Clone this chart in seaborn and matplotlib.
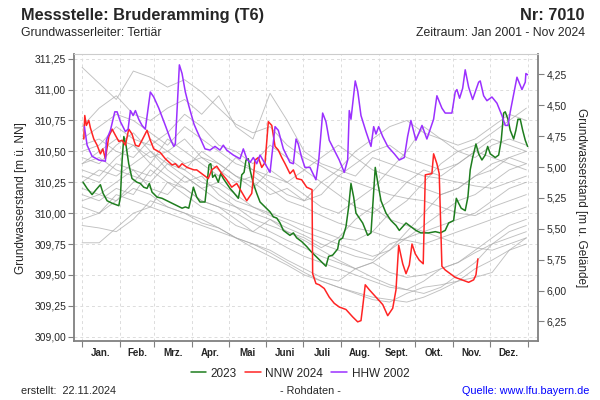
import numpy as np
import pandas as pd
import seaborn as sns
import matplotlib.pyplot as plt
import matplotlib.ticker as ticker

# Gelaendehoehe (Umrechnung m u. Gelaende)
gelaende = 315.373

# Monate
monat_start = [0, 31, 59, 90, 120, 151, 181, 212, 243, 273, 304, 334, 365]
monat_namen = ['Jan.', 'Feb.', 'Mrz.', 'Apr.', 'Mai', 'Juni', 'Juli', 'Aug.',
               'Sept.', 'Okt.', 'Nov.', 'Dez.']

# 2023 (gruen)
tag_2023 = [0.8, 4.1, 8.2, 11.5, 15, 17.2, 20.5, 24.6, 30.1, 31.4, 32.8, 34.2, 36, 38.2,
            40.9, 45, 47.7, 50.5, 53.2, 55.1, 57.3, 61.4, 65.5, 69.6, 73.7, 77.8, 81.9,
            84.6, 87.4, 89.5, 91.2, 93.9, 96.6, 100.7, 104, 105.4, 107, 108.9, 111.6,
            113.6, 115.7, 118.5, 121.2, 123.9, 128, 129.4, 130.8, 132.7, 134.3, 136.2,
            137.6, 140.3, 143.1, 145.8, 149.9, 154, 156.7, 159.5, 162.2, 164.9, 167.6,
            170.3, 173.1, 175.8, 179.9, 184, 187.5, 191.6, 195.7, 199.8, 202, 205.3,
            209.4, 210.7, 213.5, 216.2, 218.4, 220.3, 222.5, 224.4, 227.1, 229.9, 234,
            236.7, 238.1, 240.2, 242.2, 244.9, 249, 253.1, 257.2, 259.9, 262.7, 265.4,
            269.4, 273.5, 277.6, 283.9, 289.4, 293.5, 297.5, 300.3, 304.4, 306.6, 308.5,
            310.6, 313.9, 316.1, 318, 320, 322.7, 324.9, 327.6, 330.3, 332.3, 334.4,
            338.5, 341.3, 343.4, 345.4, 346.7, 348.9, 350.8, 353.6, 355.4, 357.1, 359,
            361, 363.1, 365]
wert_2023 = [310.25, 310.20, 310.15, 310.19, 310.23, 310.16, 310.10, 310.08, 310.06, 310.13,
             310.43, 310.62, 310.55, 310.40, 310.28, 310.25, 310.24, 310.21, 310.20, 310.24,
             310.17, 310.13, 310.12, 310.10, 310.08, 310.06, 310.04, 310.05, 310.04, 310.13,
             310.21, 310.13, 310.09, 310.09, 310.39, 310.40, 310.29, 310.31, 310.25, 310.32,
             310.28, 310.24, 310.20, 310.17, 310.12, 310.19, 310.31, 310.33, 310.43, 310.44,
             310.35, 310.24, 310.16, 310.09, 310.05, 310.01, 309.97, 309.96, 309.92, 309.86,
             309.84, 309.82, 309.84, 309.80, 309.77, 309.73, 309.69, 309.65, 309.61, 309.57,
             309.65, 309.66, 309.71, 309.78, 309.80, 309.89, 310.05, 310.24, 310.13, 310.00,
             309.96, 309.92, 309.82, 309.84, 310.05, 310.37, 310.25, 310.10, 310.00, 309.94,
             309.90, 309.86, 309.89, 309.92, 309.89, 309.86, 309.84, 309.84, 309.85, 309.84,
             309.86, 309.92, 309.94, 310.12, 310.08, 310.04, 310.02, 310.13, 310.35, 310.45,
             310.56, 310.48, 310.43, 310.47, 310.54, 310.48, 310.45, 310.47, 310.59, 310.81,
             310.82, 310.76, 310.67, 310.60, 310.67, 310.76, 310.76, 310.67, 310.59, 310.54]

# NNW 2024 (rot)
tag_nnw = [1.4, 2.2, 3.5, 5.5, 6.8, 9.6, 12.3, 15, 17, 19.1, 21.9, 24.6, 27.3, 30.1, 32.8,
           35.5, 38.2, 40.9, 43.7, 46.4, 49.1, 53.2, 55.9, 58.7, 64.1, 68.2, 73.7, 76.4,
           79.2, 81.9, 86, 91.7, 93.9, 99.3, 103.4, 106.2, 110.3, 114.4, 118.5, 122.6,
           126.7, 130.8, 134.9, 139, 141.7, 144.4, 147.2, 149.9, 152.6, 155.4, 158.1,
           160.8, 163.6, 166.3, 170.3, 173.1, 175.8, 179.9, 184, 188.4, 188.9, 191.6,
           194.3, 198.4, 202.5, 206.6, 210.7, 216.2, 221.7, 225.8, 228.5, 229.9, 232,
           235.3, 240.8, 246.3, 250.4, 254.5, 257.2, 259.4, 262.7, 265.4, 268.1, 270.3,
           273, 276.2, 279.5, 281.2, 286.6, 288, 290.7, 292.6, 294.8, 297.5, 301.6, 305.7,
           311.2, 316.7, 320.8, 322.7, 324.3]
wert_nnw = [310.60, 310.79, 310.71, 310.75, 310.69, 310.60, 310.55, 310.48, 310.52, 310.44,
            310.62, 310.68, 310.63, 310.58, 310.59, 310.55, 310.68, 310.64, 310.55, 310.54,
            310.59, 310.67, 310.59, 310.52, 310.49, 310.44, 310.39, 310.40, 310.37, 310.40,
            310.37, 310.35, 310.35, 310.31, 310.28, 310.35, 310.38, 310.32, 310.27, 310.21,
            310.24, 310.17, 310.10, 310.16, 310.43, 310.45, 310.37, 310.41, 310.74, 310.71,
            310.54, 310.51, 310.45, 310.40, 310.32, 310.35, 310.28, 310.27, 310.21, 310.19,
            309.51, 309.43, 309.42, 309.39, 309.32, 309.27, 309.24, 309.22, 309.16, 309.12,
            309.13, 309.24, 309.42, 309.38, 309.32, 309.26, 309.17, 309.23, 309.38, 309.74,
            309.59, 309.51, 309.58, 309.75, 309.67, 309.62, 309.59, 310.31, 310.32, 310.48,
            310.40, 310.32, 309.57, 309.54, 309.51, 309.48, 309.46, 309.44, 309.46, 309.50,
            309.63]

# HHW 2002 (violett)
tag_hhw = [1.9, 4.1, 8.2, 13.7, 19.1, 19.9, 23.2, 26.8, 28.7, 31.4, 35.5, 37.7, 39.6, 41.8,
           43.7, 46.4, 49.1, 51.8, 55.9, 58.7, 62.8, 68.2, 72.3, 75.1, 76.4, 79.7, 81.9,
           84.6, 87.4, 91.7, 93.9, 100.7, 104.8, 108.9, 113, 115.7, 118.5, 123.9, 129.4,
           132.1, 134.9, 137.6, 140.3, 143.1, 145.8, 149.9, 154, 158.1, 160.8, 164.9,
           170.3, 173.1, 175.3, 177.1, 179.9, 182.6, 186.7, 191.6, 193.9, 197.1, 199.8,
           202.5, 206.6, 210.7, 214.8, 217.6, 218.9, 220.3, 223.8, 225.8, 228.5, 232.6,
           236.7, 238.9, 240.8, 243, 246.3, 250.4, 255.8, 259.9, 264, 266.7, 269.4, 273.5,
           278.5, 282.5, 288, 290.7, 294.8, 297.5, 303, 305.7, 307.1, 309.3, 311.8, 313.9,
           316.7, 320, 324.9, 326.2, 329, 331.7, 335.8, 339.9, 344, 346.7, 348.9, 350.8,
           356.3, 360.4, 363.1, 363.6, 365]
wert_hhw = [310.70, 310.55, 310.46, 310.43, 310.42, 310.59, 310.67, 310.82, 310.82, 310.74,
            310.66, 310.68, 310.83, 310.79, 310.83, 310.76, 310.71, 310.68, 310.98, 310.94,
            310.85, 310.71, 310.60, 310.54, 310.56, 311.20, 311.13, 310.98, 310.87, 310.72,
            310.67, 310.52, 310.51, 310.54, 310.51, 310.55, 310.51, 310.47, 310.44, 310.52,
            310.44, 310.41, 310.45, 310.40, 310.47, 310.40, 310.33, 310.70, 310.67, 310.52,
            310.41, 310.40, 310.60, 310.56, 310.45, 310.37, 310.37, 310.27, 310.43, 310.81,
            310.74, 310.59, 310.51, 310.43, 310.33, 310.43, 310.83, 310.76, 311.07, 310.99,
            310.79, 310.66, 310.54, 310.70, 310.64, 310.70, 310.62, 310.54, 310.48, 310.43,
            310.45, 310.62, 310.75, 310.59, 310.71, 310.60, 310.76, 310.95, 310.85, 310.81,
            310.81, 310.98, 311.00, 310.93, 311.01, 311.16, 311.02, 310.92, 311.06, 311.07,
            310.95, 310.91, 310.94, 310.89, 310.79, 310.71, 310.71, 310.82, 311.10, 311.00,
            311.06, 311.13, 311.12]

# uebrige Jahre (grau), Werte alle 14 Tage
tag_grau = [0, 14, 28, 42, 56, 70, 84, 98, 112, 126, 140, 154, 168, 182, 196, 210, 224,
            238, 252, 266, 280, 294, 308, 322, 336, 350, 364]
grau = {
    'g01': [311.18, 311.05, 310.92, 311.15, 311.10, 311.02, 311.08, 310.98, 310.85, 310.72,
            310.65, 310.70, 310.55, 310.45, 310.38, 310.30, 310.25, 310.20, 310.15, 310.12,
            310.10, 310.05, 310.00, 309.98, 310.05, 310.10, 310.15],
    'g02': [310.70, 310.85, 310.95, 310.80, 310.75, 310.85, 310.92, 310.80, 310.95, 310.70,
            310.60, 310.97, 310.75, 310.50, 310.40, 310.35, 310.30, 310.45, 310.40, 310.35,
            310.30, 310.28, 310.25, 310.22, 310.20, 310.25, 310.30],
    'g03': [309.76, 309.76, 309.88, 310.00, 310.05, 310.00, 309.95, 309.90, 309.85, 309.80,
            309.72, 309.65, 309.58, 309.50, 309.45, 309.40, 309.35, 309.30, 309.28, 309.35,
            309.40, 309.42, 309.45, 309.48, 309.52, 309.70, 309.80],
    'g04': [309.90, 309.88, 309.85, 309.95, 310.10, 310.05, 310.00, 309.92, 309.88, 309.80,
            309.75, 309.70, 309.62, 309.55, 309.48, 309.45, 309.55, 309.60, 309.52, 309.48,
            309.50, 309.55, 309.60, 309.68, 309.75, 309.80, 309.85],
    'g05': [310.10, 310.15, 310.25, 310.35, 310.20, 310.15, 310.30, 310.20, 310.10, 310.05,
            310.00, 309.95, 309.88, 309.82, 309.75, 309.70, 309.65, 309.62, 309.75, 309.80,
            309.85, 309.90, 309.95, 310.00, 310.10, 310.20, 310.25],
    'g06': [310.30, 310.25, 310.40, 310.35, 310.30, 310.45, 310.35, 310.25, 310.20, 310.10,
            310.05, 310.00, 309.95, 309.90, 309.85, 309.80, 309.78, 309.85, 310.00, 310.10,
            310.25, 310.40, 310.50, 310.55, 310.65, 310.75, 310.85],
    'g07': [310.40, 310.50, 310.60, 310.55, 310.45, 310.50, 310.60, 310.45, 310.40, 310.30,
            310.20, 310.35, 310.25, 310.15, 310.05, 310.00, 310.10, 310.20, 310.35, 310.50,
            310.70, 310.60, 310.50, 310.45, 310.55, 310.60, 310.55],
    'g08': [310.55, 310.60, 310.50, 310.45, 310.60, 310.50, 310.40, 310.45, 310.35, 310.25,
            310.30, 310.20, 310.10, 310.05, 309.98, 309.92, 309.88, 309.85, 309.80, 309.78,
            309.75, 309.80, 309.85, 309.90, 309.95, 310.00, 310.05],
    'g09': [310.25, 310.35, 310.30, 310.40, 310.50, 310.35, 310.25, 310.30, 310.15, 310.05,
            309.95, 309.90, 309.85, 309.78, 309.70, 309.62, 309.55, 309.48, 309.42, 309.38,
            309.45, 309.55, 309.60, 309.70, 309.80, 309.90, 309.95],
    'g10': [310.45, 310.40, 310.55, 310.65, 310.50, 310.40, 310.35, 310.50, 310.40, 310.30,
            310.25, 310.15, 310.20, 310.10, 310.15, 310.30, 310.40, 310.50, 310.55, 310.45,
            310.40, 310.35, 310.40, 310.50, 310.45, 310.40, 310.35],
    'g11': [310.20, 310.15, 310.10, 310.25, 310.40, 310.30, 310.20, 310.10, 310.05, 309.95,
            309.85, 309.80, 309.72, 309.65, 309.60, 309.55, 309.50, 309.45, 309.40, 309.38,
            309.35, 309.40, 309.50, 309.60, 309.75, 309.85, 309.90],
    'g12': [310.35, 310.30, 310.45, 310.55, 310.40, 310.60, 310.50, 310.40, 310.30, 310.45,
            310.35, 310.25, 310.15, 310.10, 310.25, 310.15, 310.05, 310.00, 310.10, 310.25,
            310.35, 310.30, 310.40, 310.50, 310.60, 310.55, 310.50],
    'g13': [310.05, 310.00, 310.10, 310.20, 310.15, 310.05, 310.00, 309.95, 309.88, 309.80,
            309.75, 309.68, 309.60, 309.52, 309.45, 309.40, 309.36, 309.32, 309.30, 309.28,
            309.32, 309.38, 309.45, 309.55, 309.62, 309.70, 309.75],
    'g14': [310.60, 310.70, 310.80, 310.75, 310.65, 310.55, 310.70, 310.60, 310.50, 310.40,
            310.35, 310.30, 310.25, 310.35, 310.45, 310.55, 310.45, 310.35, 310.30, 310.25,
            310.20, 310.15, 310.20, 310.30, 310.40, 310.45, 310.40],
    'g15': [310.15, 310.10, 310.20, 310.15, 310.35, 310.25, 310.15, 310.05, 310.00, 309.90,
            309.85, 309.95, 309.85, 309.80, 309.72, 309.80, 309.95, 310.05, 309.95, 309.90,
            309.85, 309.80, 309.75, 309.72, 309.70, 309.75, 309.80],
    'g16': [310.40, 310.45, 310.35, 310.30, 310.25, 310.40, 310.30, 310.20, 310.25, 310.15,
            310.05, 309.98, 309.92, 309.85, 309.80, 309.75, 309.70, 309.65, 309.70, 309.85,
            310.00, 310.15, 310.20, 310.30, 310.35, 310.45, 310.50],
    'g17': [309.95, 310.00, 310.15, 310.10, 310.05, 310.25, 310.20, 310.10, 310.05, 310.00,
            309.92, 309.85, 309.78, 309.72, 309.65, 309.60, 309.55, 309.60, 309.70, 309.80,
            309.90, 310.00, 310.10, 310.15, 310.25, 310.35, 310.40],
    'g18': [310.50, 310.55, 310.70, 310.60, 310.55, 310.65, 310.80, 310.70, 310.55, 310.50,
            310.40, 310.55, 310.45, 310.35, 310.25, 310.35, 310.50, 310.60, 310.70, 310.75,
            310.65, 310.60, 310.55, 310.60, 310.70, 310.80, 310.75],
}

grau_df = pd.DataFrame([(k, t, w) for k, werte in grau.items()
                        for t, w in zip(tag_grau, werte)],
                       columns=['jahr', 'tag', 'wert'])

sns.set_style('white')
plt.rcParams['font.family'] = ['Liberation Sans', 'DejaVu Sans']

fig = plt.figure(figsize=(6, 4), dpi=100)
ax = fig.add_axes([0.124, 0.1475, 0.773, 0.7175])

# Gitter
for t in monat_start:
    ax.axvline(t, color='#dcdcdc', lw=0.7, ls=(0, (3, 3)), zorder=0)
for w in np.arange(309.0, 311.26, 0.25):
    ax.axhline(w, color='#dcdcdc', lw=0.7, ls=(0, (3, 3)), zorder=0)

sns.lineplot(data=grau_df, x='tag', y='wert', units='jahr', estimator=None,
             color='#ababab', alpha=0.75, lw=0.65, ax=ax, legend=False)
sns.lineplot(x=tag_2023, y=wert_2023, color='#1e7d1e', lw=1.1, ax=ax, label='2023')
sns.lineplot(x=tag_nnw, y=wert_nnw, color='#ff2424', lw=1.1, ax=ax, label='NNW 2024')
sns.lineplot(x=tag_hhw, y=wert_hhw, color='#9b30ff', lw=1.1, ax=ax, label='HHW 2002')

ax.set_xlim(-6.3, 373.7)
ax.set_ylim(308.965, 311.288)
ax.set_xlabel('')
ax.set_ylabel('')

komma = ticker.FuncFormatter(lambda v, p: '{:.2f}'.format(v).replace('.', ','))
ax.set_yticks(np.arange(309.0, 311.26, 0.25))
ax.yaxis.set_major_formatter(komma)
ax.set_xticks(monat_start)
ax.set_xticklabels([])
ax.set_xticks([(a + b) / 2 for a, b in zip(monat_start[:-1], monat_start[1:])], minor=True)
ax.set_xticklabels(monat_namen, minor=True, fontsize=7, fontweight='bold')
ax.tick_params(axis='x', which='major', length=4, color='#808080', direction='out', bottom=True)
ax.tick_params(axis='x', which='minor', length=0, pad=5)
ax.tick_params(axis='y', length=4, color='#808080', direction='out', left=True,
               labelsize=7.5, pad=2)

for s in ['left', 'bottom', 'right']:
    ax.spines[s].set_color('#808080')
    ax.spines[s].set_linewidth(1.3)
ax.spines['top'].set_color('#cccccc')
ax.spines['top'].set_linewidth(0.8)

# rechte Achse: Flurabstand
ax2 = ax.twinx()
ax2.set_ylim(gelaende - 308.965, gelaende - 311.288)
ax2.set_yticks(np.arange(4.25, 6.26, 0.25))
ax2.yaxis.set_major_formatter(komma)
ax2.tick_params(axis='y', length=4, color='#808080', direction='out', right=True,
                labelsize=7.5, pad=2)
for s in ax2.spines.values():
    s.set_visible(False)

# Legende
h, l = ax.get_legend_handles_labels()
ax.legend().remove()
fig.legend(h, l, loc='center', bbox_to_anchor=(0.5, 0.066), ncol=3, frameon=False,
           fontsize=8.5, handlelength=1.3, handletextpad=0.4, columnspacing=0.7)

# Texte
fig.text(0.035, 0.962, 'Messstelle: Bruderamming (T6)', fontsize=11.8, fontweight='bold',
         ha='left', va='center')
fig.text(0.975, 0.962, 'Nr: 7010', fontsize=11.8, fontweight='bold', ha='right', va='center')
fig.text(0.035, 0.917, 'Grundwasserleiter: Tertiär', fontsize=8.8, ha='left', va='center')
fig.text(0.975, 0.917, 'Zeitraum: Jan 2001 - Nov 2024', fontsize=8.8, ha='right', va='center')
fig.text(0.035, 0.505, 'Grundwasserstand [m ü. NN]', fontsize=8.5, rotation=90,
         ha='center', va='center')
fig.text(0.968, 0.505, 'Grundwasserstand [m u. Gelände]', fontsize=8.5, rotation=270,
         ha='center', va='center')
fig.text(0.035, 0.022, 'erstellt:  22.11.2024', fontsize=7.8, ha='left', va='center')
fig.text(0.518, 0.022, '- Rohdaten -', fontsize=7.8, ha='center', va='center')
fig.text(0.983, 0.022, 'Quelle: www.lfu.bayern.de', fontsize=7.8, ha='right', va='center',
         color='#0000ff')

fig.savefig('out.png', dpi=100)
